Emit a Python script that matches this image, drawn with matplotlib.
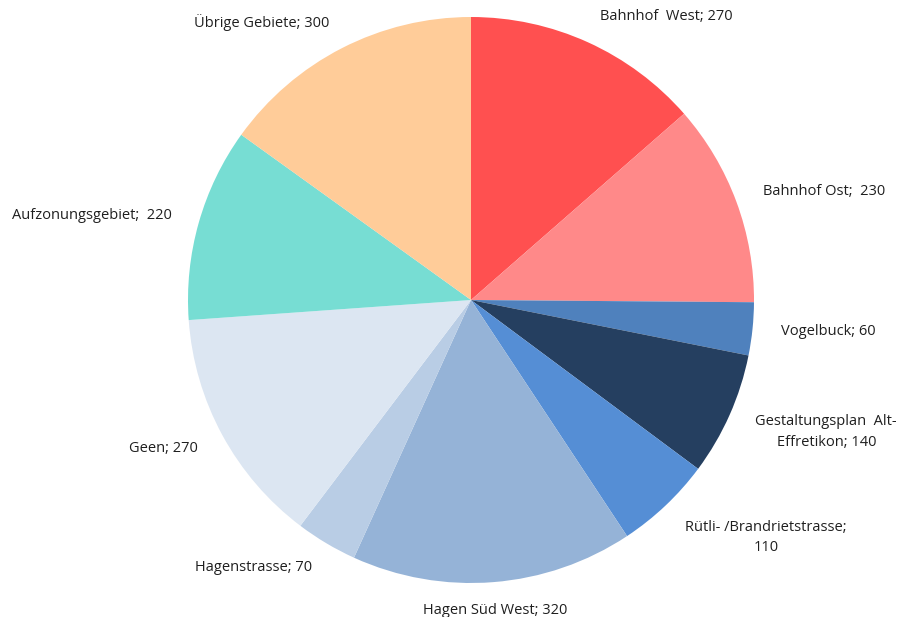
import matplotlib
matplotlib.use('Agg')
import matplotlib.pyplot as plt

plt.rcParams['font.family'] = ['Open Sans', 'DejaVu Sans']

# Daten (Uhrzeigersinn ab 12 Uhr)
labels = ['Bahnhof  West; 270', 'Bahnhof Ost;  230', 'Vogelbuck; 60',
          'Gestaltungsplan  Alt-\nEffretikon; 140', 'Rütli- /Brandrietstrasse;\n110',
          'Hagen Süd West; 320', 'Hagenstrasse; 70', 'Geen; 270',
          'Aufzonungsgebiet;  220', 'Übrige Gebiete; 300']
values = [270, 230, 60, 140, 110, 320, 70, 270, 220, 300]
colors = ['#FF5050', '#FF8989', '#4F81BD', '#253F60', '#558ED5',
          '#95B3D7', '#B9CDE5', '#DCE6F2', '#77DDD3', '#FFCC99']

fig = plt.figure(figsize=(9.01, 6.17), dpi=100)
# Kreis: Mitte (471, 300) px, Radius 283 px
ax = fig.add_axes([(471 - 283) / 901, (617 - 300 - 283) / 617, 566 / 901, 566 / 617])

wedges, texts = ax.pie(values, labels=labels, colors=colors, startangle=90,
                       counterclock=False, labeldistance=1.1,
                       textprops={'fontsize': 10.5, 'color': '#1f1f1f'})
for t in texts:
    t.set_multialignment('center')
    t.set_linespacing(1.5)
texts[5].set_ha('center')
# zweizeilige Labels etwas tiefer wie im Original
texts[3].set_y(texts[3].get_position()[1] - 0.02)
texts[4].set_y(texts[4].get_position()[1] - 0.04)

ax.set_xlim(-1, 1)
ax.set_ylim(-1, 1)
ax.set_aspect('equal')
ax.axis('off')

fig.savefig('out.png', dpi=100)
